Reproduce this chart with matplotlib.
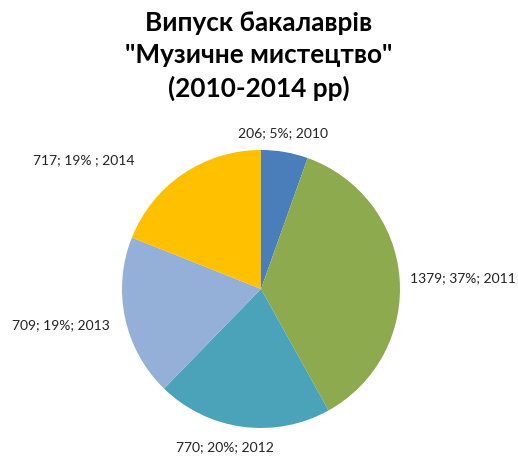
import matplotlib
matplotlib.use('Agg')
import matplotlib.pyplot as plt

years = ['2010', '2011', '2012', '2013', '2014']
graduates = [206, 1379, 770, 709, 717]
percents = ['5%', '37%', '20%', '19%', '19% ']
colors = ['#4A7EBB', '#8DAA4E', '#4AA3B9', '#94AFD8', '#FFC000']

# label anchors (axes data units, pie radius = 1) and alignment
label_pos = [(0.16, 1.12), (1.07, 0.08), (-0.26, -1.14), (-1.09, -0.26), (-0.91, 0.93)]
label_ha = ['center', 'left', 'center', 'right', 'right']

plt.rcParams['font.family'] = ['Lato', 'DejaVu Sans']

fig = plt.figure(figsize=(5.18, 4.57), dpi=100)
ax = fig.add_axes([0.2355, 0.0635, 0.5367, 0.6083])
ax.pie(graduates, colors=colors, startangle=90, counterclock=False,
       wedgeprops={'linewidth': 0})
ax.set_xlim(-1, 1)
ax.set_ylim(-1, 1)
ax.set_aspect('equal')

for v, p, y, (x0, y0), ha in zip(graduates, percents, years, label_pos, label_ha):
    ax.text(x0, y0, f'{v}; {p}; {y}', ha=ha, va='center', fontsize=10,
            color='#222222', clip_on=False)

fig.text(0.5, 0.975, 'Випуск бакалаврів\n"Музичне мистецтво"\n(2010-2014 рр)',
         ha='center', va='top', fontsize=18.8, fontweight='bold',
         linespacing=1.4)

fig.savefig('out.png', dpi=100)
